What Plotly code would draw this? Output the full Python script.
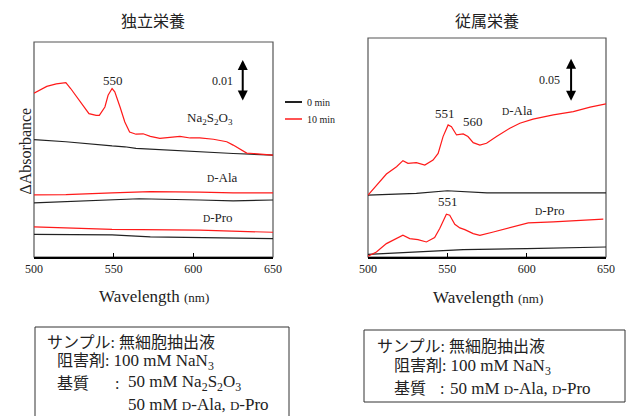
import plotly.graph_objects as go

W, H = 628, 416

# ---------------- data (ΔAbsorbance vs wavelength) ----------------
# Left panel: 独立栄養
na_10_x = [500, 502.5, 508, 514, 520, 523, 529, 534.5, 539, 541, 544.5, 546.5, 549, 550.7, 554, 557, 560,
           564, 568.5, 573, 579, 587, 591.6, 598, 604, 612.6, 621, 625, 629, 633.5, 637.7, 644, 650]
na_10_y = [0.0391, 0.0396, 0.0407, 0.0413, 0.0416, 0.0402, 0.0370, 0.0342, 0.0338, 0.0338, 0.0358, 0.0386,
           0.0402, 0.0394, 0.0358, 0.0322, 0.0298, 0.0293, 0.0294, 0.0288, 0.0283, 0.0287, 0.0288, 0.0284,
           0.0284, 0.0281, 0.0275, 0.0267, 0.0259, 0.0248, 0.0247, 0.0245, 0.0243]
na_0_x = [500, 520, 549, 557, 564, 583, 604, 625, 650]
na_0_y = [0.0280, 0.0275, 0.0265, 0.0263, 0.0259, 0.0255, 0.0251, 0.0247, 0.0243]

ala_l_10_x = [500, 520, 549, 573, 604, 625, 650]
ala_l_10_y = [0.0148, 0.0149, 0.0153, 0.0156, 0.0155, 0.0153, 0.0153]
ala_l_0_x = [500, 520, 549, 566, 604, 625, 650]
ala_l_0_y = [0.0129, 0.0132, 0.0136, 0.0139, 0.0136, 0.0134, 0.0136]

pro_l_10_x = [500, 549, 604, 650]
pro_l_10_y = [0.0072, 0.0066, 0.0064, 0.0059]
pro_l_0_x = [500, 549, 573, 604, 650]
pro_l_0_y = [0.0054, 0.0053, 0.0048, 0.0047, 0.0044]

# Right panel: 従属栄養
ala_r_10_x = [500, 505.3, 511.6, 518, 522, 525.2, 530.5, 535.8, 541, 544.2, 547.3, 550.5, 552.6, 555.8, 560,
              563, 566.3, 570.5, 574.7, 581, 589.4, 595.7, 604, 616.8, 629.4, 640, 650]
ala_r_10_y = [0.0712, 0.0827, 0.0954, 0.1038, 0.1108, 0.1077, 0.1085, 0.1058, 0.1115, 0.1192, 0.1385, 0.1519,
              0.1500, 0.1404, 0.1415, 0.1385, 0.1315, 0.1288, 0.1308, 0.1385, 0.1481, 0.1538, 0.1585, 0.1635,
              0.1673, 0.1723, 0.1762]
ala_r_0_x = [500, 530.5, 550, 575, 600, 650]
ala_r_0_y = [0.0712, 0.0731, 0.0762, 0.0738, 0.0738, 0.0738]

pro_r_10_x = [500, 505.3, 511.6, 518, 522, 526.3, 531.5, 536.8, 542, 545.2, 549.4, 551.5, 554.7, 557.9, 561,
              566.3, 570.5, 579, 589.4, 601, 616.8, 633.6, 648.3]
pro_r_10_y = [0.0008, 0.0058, 0.0154, 0.0212, 0.0250, 0.0212, 0.0200, 0.0173, 0.0223, 0.0327, 0.0492, 0.0481,
              0.0377, 0.0335, 0.0315, 0.0269, 0.0250, 0.0288, 0.0338, 0.0392, 0.0404, 0.0423, 0.0435]
pro_r_0_x = [500, 530, 550, 560, 600, 650]
pro_r_0_y = [0.0031, 0.0058, 0.0069, 0.0085, 0.0096, 0.0115]

x_ticks = [500, 550, 600, 650]
left_yrange = [0, 0.0513]
right_yrange = [0, 0.2519]

# scale bars
left_bar = dict(x=631, y0=0.037, y1=0.047, label="0.01")
right_bar = dict(x=628, y0=0.178, y1=0.228, label="0.05")

# ------------------------------------------------------------------
SERIF = "Liberation Serif"
CJK = "Liberation Serif, Noto Sans CJK JP"
SANSCJK = "Noto Sans CJK JP"
RED = "#ff1a1a"
BLK = "#222222"


def px(x):
    return x / W


def py(y):
    return 1 - y / H


fig = go.Figure()


def add(xs, ys, color, xa, ya):
    fig.add_trace(go.Scatter(x=xs, y=ys, mode="lines", line=dict(color=color, width=1.2),
                             xaxis=xa, yaxis=ya, showlegend=False, hoverinfo="skip"))


add(na_0_x, na_0_y, BLK, "x", "y")
add(na_10_x, na_10_y, RED, "x", "y")
add(ala_l_0_x, ala_l_0_y, BLK, "x", "y")
add(ala_l_10_x, ala_l_10_y, RED, "x", "y")
add(pro_l_0_x, pro_l_0_y, BLK, "x", "y")
add(pro_l_10_x, pro_l_10_y, RED, "x", "y")

add(ala_r_0_x, ala_r_0_y, BLK, "x2", "y2")
add(ala_r_10_x, ala_r_10_y, RED, "x2", "y2")
add(pro_r_0_x, pro_r_0_y, BLK, "x2", "y2")
add(pro_r_10_x, pro_r_10_y, RED, "x2", "y2")

xcommon = dict(range=[500, 650], tickvals=x_ticks, ticks="inside", ticklen=4, tickwidth=1.3,
               tickcolor="black", showline=True, linecolor="black", linewidth=1.5, showgrid=False,
               zeroline=False, fixedrange=True, automargin=False,
               tickfont=dict(family=SERIF, size=12, color="#222"))
ycommon = dict(showticklabels=False, ticks="", showgrid=False, zeroline=False, showline=False,
               fixedrange=True, automargin=False)

fig.update_layout(
    width=W, height=H, margin=dict(l=0, r=0, t=0, b=0, pad=0, autoexpand=False),
    paper_bgcolor="white", plot_bgcolor="white",
    font=dict(family=SERIF, size=12),
    xaxis=dict(domain=[px(34), px(273)], anchor="y", **xcommon),
    yaxis=dict(domain=[py(257), py(42)], range=left_yrange, anchor="x", **ycommon),
    xaxis2=dict(domain=[px(368), px(606)], anchor="y2", **xcommon),
    yaxis2=dict(domain=[py(257), py(38)], range=right_yrange, anchor="x2", **ycommon),
)

shapes = []
# frames
for xr, yr in (("x", "y"), ("x2", "y2")):
    shapes.append(dict(type="rect", xref=f"{xr} domain", yref=f"{yr} domain", x0=0, x1=1, y0=0, y1=1,
                       line=dict(color="#555555", width=1.2), layer="below"))
# legend lines
shapes.append(dict(type="line", xref="paper", yref="paper", x0=px(285), x1=px(302), y0=py(102), y1=py(102),
                   line=dict(color=BLK, width=2)))
shapes.append(dict(type="line", xref="paper", yref="paper", x0=px(285), x1=px(302), y0=py(119), y1=py(119),
                   line=dict(color=RED, width=1.5)))
# info boxes
shapes.append(dict(type="rect", xref="paper", yref="paper", x0=px(35), x1=px(289), y0=py(430), y1=py(327),
                   line=dict(color="#333", width=1)))
shapes.append(dict(type="rect", xref="paper", yref="paper", x0=px(364), x1=px(625), y0=py(402), y1=py(330),
                   line=dict(color="#333", width=1)))
fig.update_layout(shapes=shapes)

ann = []


def T(text, x, y, xref="paper", yref="paper", size=13, family=SERIF, xanchor="center", color="#222"):
    ann.append(dict(text=text, x=x, y=y, xref=xref, yref=yref, showarrow=False, xanchor=xanchor,
                    yanchor="middle", font=dict(family=family, size=size, color=color)))


def Dsc(rest, dsize=10):
    return f"<span style='font-size:{dsize}px'>D</span>" + rest


def L(text):
    return f"<span style='font-size:17px'>{text}</span>"


# titles
T("独立栄養", px(153), py(20), size=16, family=SANSCJK)
T("従属栄養", px(487), py(20), size=16, family=SANSCJK)
# axis titles
T("Wavelength <span style='font-size:13px'>(nm)</span>", px(154), py(296), size=17)
T("Wavelength <span style='font-size:13px'>(nm)</span>", px(488), py(297), size=17)
ann.append(dict(text="ΔAbsorbance", x=px(15), y=py(151), xref="paper", yref="paper", showarrow=False,
                textangle=-90, font=dict(family=SERIF, size=16, color="#222")))

# left panel labels
T("550", 549.6, 0.0421, "x", "y")
T(left_bar["label"], 618.6, 0.0421, "x", "y", size=12)
T("Na<sub>2</sub>S<sub>2</sub>O<sub>3</sub>", 610.5, 0.0331, "x", "y")
T(Dsc("-Ala"), 618, 0.0190, "x", "y")
T(Dsc("-Pro"), 615.5, 0.0095, "x", "y")
# right panel labels
T("551", 548.5, 0.1656, "x2", "y2")
T("560", 566.2, 0.1553, "x2", "y2")
T(Dsc("-Ala"), 594.5, 0.1690, "x2", "y2")
T(right_bar["label"], 614.7, 0.2036, "x2", "y2", size=12)
T("551", 550.4, 0.0633, "x2", "y2")
T(Dsc("-Pro"), 614.7, 0.0540, "x2", "y2")

# legend text
T("0 min", px(305), py(102), size=10, xanchor="left")
T("10 min", px(305), py(119), size=10, xanchor="left")

# scale bars (double arrows)
for bar, xr, yr in ((left_bar, "x", "y"), (right_bar, "x2", "y2")):
    ann.append(dict(x=bar["x"], y=bar["y1"], ax=bar["x"], ay=bar["y0"], xref=xr, yref=yr, axref=xr, ayref=yr,
                    text="", showarrow=True, arrowhead=2, arrowside="end+start", arrowsize=1,
                    arrowwidth=2, arrowcolor="black"))

# info box texts (left)
T("サンプル: 無細胞抽出液", px(45), py(342), size=16, family=CJK, xanchor="left")
T("阻害剤: " + L("100 mM NaN<sub>3</sub>"), px(55), py(362), size=16, family=CJK, xanchor="left")
T("基質", px(55), py(383), size=16, family=CJK, xanchor="left")
T(":", px(113), py(383), size=16, xanchor="left")
T("50 mM Na<sub>2</sub>S<sub>2</sub>O<sub>3</sub>", px(126), py(383), size=17, xanchor="left")
T("50 mM " + Dsc("-Ala, ", 13) + Dsc("-Pro", 13), px(126), py(404), size=17, xanchor="left")
# info box texts (right)
T("サンプル: 無細胞抽出液", px(375), py(346), size=16, family=CJK, xanchor="left")
T("阻害剤: " + L("100 mM NaN<sub>3</sub>"), px(392), py(367), size=16, family=CJK, xanchor="left")
T("基質", px(392), py(388), size=16, family=CJK, xanchor="left")
T(":", px(438), py(388), size=16, xanchor="left")
T("50 mM " + Dsc("-Ala, ", 13) + Dsc("-Pro", 13), px(448), py(388), size=17, xanchor="left")

fig.update_layout(annotations=ann)
fig.write_html("out.html", config={"displayModeBar": False},
               post_script="document.body.style.margin='0';document.body.style.overflow='hidden';")
